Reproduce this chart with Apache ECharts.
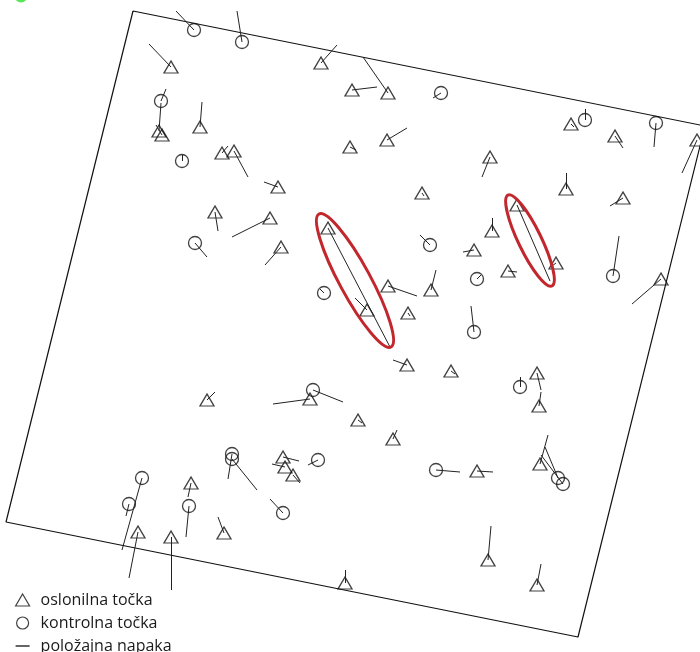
<!DOCTYPE html>
<html>
<head>
<meta charset="utf-8">
<script src="https://cdn.jsdelivr.net/npm/echarts@6/dist/echarts.min.js"></script>
<style>
html,body{margin:0;padding:0;background:#fff;}
#chart{width:700px;height:652px;}
</style>
</head>
<body>
<div id="chart"></div>
<script>
// Oslonilne točke (ground control points), map coordinates
const controlPoints = [
  [171,67],[321,63],[352,90],[388,93],[159,131],[162,135],[200,127],[222,153],[234,151],[278,187],
  [350,147],[387,140],[215,212],[270,218],[281,247],[328,228],[367,310],[388,286],[408,313],[431,290],
  [422,193],[490,157],[517,205],[556,263],[566,189],[571,124],[615,136],[623,198],[697,140],[661,279],
  [474,250],[492,231],[508,271],[407,365],[451,371],[537,373],[539,406],[207,400],[310,399],[358,420],
  [393,439],[477,471],[540,464],[488,560],[537,585],[345,583],[191,483],[224,533],[171,537],[138,532],
  [283,457],[285,467],[293,475]
];
// Položajna napaka end points for control points (same order)
const controlErrorEnds = [
  [149,44],[337,45],[377,87],[363,57],[161,103],[156,125],[202,102],[228,146],[248,177],[264,182],
  [356,150],[407,128],[218,231],[232,237],[265,265],[390,347],[355,298],[417,296],[410,316],[436,270],
  [424,196],[482,177],[550,281],[552,266],[566,173],[574,127],[623,148],[610,206],[682,173],[632,304],
  [463,252],[492,218],[517,272],[393,360],[455,374],[541,390],[541,392],[215,392],[273,404],[362,423],
  [397,430],[493,472],[548,435],[491,526],[541,564],[345,570],[188,497],[218,517],[171,590],[129,578],
  [299,461],[272,464],[300,483]
];
// Kontrolne točke (check points)
const checkPoints = [
  [194,30],[242,42],[161,101],[182,161],[441,93],[585,120],[656,123],[195,243],[324,293],[430,245],
  [477,279],[474,332],[613,276],[520,387],[313,390],[232,454],[232,459],[318,460],[142,478],[129,504],
  [189,506],[283,513],[436,470],[558,478],[563,484]
];
const checkErrorEnds = [
  [176,11],[237,11],[166,89],[182,155],[433,98],[585,109],[654,147],[207,257],[320,289],[420,235],
  [481,275],[471,306],[619,236],[520,377],[343,402],[228,479],[257,490],[308,465],[122,550],[126,516],
  [186,537],[270,499],[460,472],[545,447],[541,455]
];
// Boundary of the photogrammetric block
const boundary = [[133,11],[705,126],[578,637],[6,522],[133,11]];
// Highlighted points: major axis end points and half width
const highlights = [
  [319,214,391,347,15.5],
  [508,195,552,286,11.5]
];
// Marker in upper left corner
const marker = [[21,-4]];

const legendNames = ['oslonilna točka','kontrolna točka','položajna napaka'];

const errorLines = [];
controlPoints.forEach((p,i)=>errorLines.push({coords:[p, controlErrorEnds[i]]}));
checkPoints.forEach((p,i)=>errorLines.push({coords:[p, checkErrorEnds[i]]}));

const chart = echarts.init(document.getElementById('chart'), null, {renderer:'canvas'});
chart.setOption({
  animation:false,
  backgroundColor:'#fff',
  grid:{left:0,right:0,top:0,bottom:0},
  xAxis:{type:'value',min:0,max:700,show:false},
  yAxis:{type:'value',min:0,max:652,inverse:true,show:false},
  legend:{
    orient:'vertical', left:15, top:592, height:120, padding:0, itemGap:7, itemWidth:14, itemHeight:12,
    selectedMode:false,
    textStyle:{fontFamily:'Open Sans', fontSize:16, color:'#1a1a1a', padding:[0,0,0,6]},
    data:[
      {name:legendNames[0], icon:'triangle', itemStyle:{color:'rgba(0,0,0,0)',borderColor:'#111',borderWidth:1.2}},
      {name:legendNames[1], icon:'circle', itemStyle:{color:'rgba(0,0,0,0)',borderColor:'#111',borderWidth:1.2}},
      {name:legendNames[2], icon:'path://M0,6L14,6L14,7.3L0,7.3Z', itemStyle:{color:'#111',borderWidth:0}}
    ]
  },
  series:[
    {
      type:'line', data:boundary, symbol:'none', silent:true, clip:false,
      lineStyle:{color:'#111',width:1.2}, z:1
    },
    {
      name:legendNames[2], type:'lines', coordinateSystem:'cartesian2d', data:errorLines,
      silent:true, lineStyle:{color:'#222',width:1,opacity:1}, z:4
    },
    {
      name:legendNames[0], type:'scatter', data:controlPoints, symbol:'triangle', symbolSize:[14,12],
      itemStyle:{color:'rgba(0,0,0,0)',borderColor:'#111',borderWidth:1.3}, z:3
    },
    {
      name:legendNames[1], type:'scatter', data:checkPoints, symbol:'circle', symbolSize:13,
      itemStyle:{color:'rgba(0,0,0,0)',borderColor:'#111',borderWidth:1.3}, z:3
    },
    {
      type:'custom', data:highlights, silent:true, z:5,
      renderItem:function(params, api){
        const p1 = api.coord([api.value(0),api.value(1)]);
        const p2 = api.coord([api.value(2),api.value(3)]);
        const s = api.size([1,1]);
        const dx = p2[0]-p1[0], dy = p2[1]-p1[1];
        const len = Math.sqrt(dx*dx+dy*dy);
        return {
          type:'ellipse',
          x:(p1[0]+p2[0])/2, y:(p1[1]+p2[1])/2,
          rotation:-Math.atan2(dy,dx),
          shape:{cx:0,cy:0,rx:len/2,ry:api.value(4)*s[0]},
          style:{fill:'none',stroke:'#c1272d',lineWidth:3}
        };
      }
    },
    {
      type:'scatter', data:marker, symbol:'circle', symbolSize:13, clip:false, silent:true,
      itemStyle:{color:'#2ee02e'}, z:2
    }
  ]
});
</script>
</body>
</html>
